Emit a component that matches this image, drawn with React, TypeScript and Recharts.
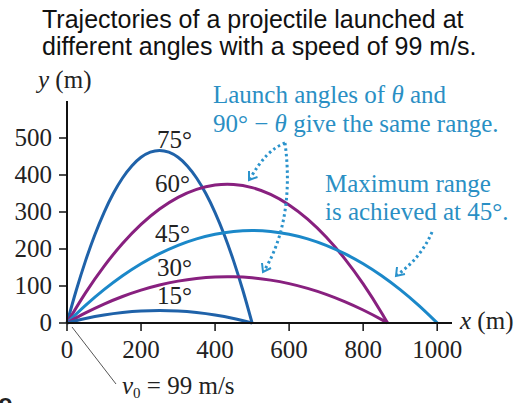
import { LineChart, Line, XAxis, YAxis } from "recharts";

const xTicks = [0, 200, 400, 600, 800, 1000];
const yTicks = [0, 100, 200, 300, 400, 500];

// horizontal distance (m) and height (m) along each trajectory
const x15 = [0, 50, 100, 150, 200, 250, 300, 350, 400, 450, 500];
const y15 = [0, 12, 21.4, 28.1, 32.2, 33.5, 32.2, 28.1, 21.4, 12, 0];

const x30 = [0, 50, 100, 150, 200, 250, 300, 350, 400, 433, 450, 500, 550, 600, 650, 700, 750, 800, 850, 866];
const y30 = [0, 27.2, 51.1, 71.6, 88.8, 102.7, 113.2, 120.4, 124.3, 125, 124.8, 122, 115.9, 106.4, 93.6, 77.5, 58, 35.2, 9.1, 0];

const x45 = [0, 50, 100, 150, 200, 250, 300, 350, 400, 450, 500, 550, 600, 650, 700, 750, 800, 850, 900, 950, 1000];
const y45 = [0, 47.5, 90, 127.5, 160, 187.5, 210, 227.5, 240, 247.5, 250, 247.5, 240, 227.5, 210, 187.5, 160, 127.5, 90, 47.5, 0];

const x60 = [0, 50, 100, 150, 200, 250, 300, 350, 400, 433, 450, 500, 550, 600, 650, 700, 750, 800, 850, 866];
const y60 = [0, 81.6, 153.2, 214.8, 266.4, 308, 339.6, 361.2, 372.8, 375, 374.4, 366, 347.6, 319.2, 280.8, 232.4, 174, 105.6, 27.2, 0];

const x75 = [0, 25, 50, 75, 100, 125, 150, 175, 200, 225, 250, 275, 300, 325, 350, 375, 400, 425, 450, 475, 500];
const y75 = [0, 88.6, 167.9, 237.9, 298.6, 349.9, 391.9, 424.5, 447.8, 461.8, 466.5, 461.8, 447.8, 424.5, 391.9, 349.9, 298.6, 237.9, 167.9, 88.6, 0];

const zip = (xs: number[], ys: number[]) => xs.map((x, i) => ({ x, y: ys[i] }));

const series = [
  { name: "75°", color: "#1f62a9", data: zip(x75, y75) },
  { name: "60°", color: "#88207f", data: zip(x60, y60) },
  { name: "45°", color: "#1b88c9", data: zip(x45, y45) },
  { name: "30°", color: "#88207f", data: zip(x30, y30) },
  { name: "15°", color: "#1f62a9", data: zip(x15, y15) },
];

const SERIF = "'Liberation Serif', 'Times New Roman', serif";
const SANS = "'Liberation Sans', Arial, sans-serif";
const NOTE = "#2a8fc4";

// serif tick labels, below the x axis and left of the y axis
const renderXTick = (p: any) => (
  <text
    key={`xt-${p.payload.value}`}
    x={p.x}
    y={p.y}
    dy={17}
    textAnchor="middle"
    fill="#222"
    style={{ fontFamily: SERIF, fontSize: 25 }}
  >
    {p.payload.value}
  </text>
);

const renderYTick = (p: any) => (
  <text
    key={`yt-${p.payload.value}`}
    x={p.x}
    y={p.y}
    dy={8}
    textAnchor="end"
    fill="#222"
    style={{ fontFamily: SERIF, fontSize: 25 }}
  >
    {p.payload.value}
  </text>
);

export default function App() {
  return (
    <div style={{ position: "absolute", left: 0, top: 0, width: 516, height: 403, background: "#fff" }}>
      <LineChart
        width={516}
        height={403}
        margin={{ top: 101, right: 64, left: 0, bottom: 0 }}
        style={{ fontFamily: SERIF }}
      >
        <XAxis
          type="number"
          dataKey="x"
          domain={[0, 1040]}
          ticks={xTicks}
          interval={0}
          height={80}
          tick={renderXTick}
          tickSize={8}
          tickMargin={10}
          axisLine={{ stroke: "#111", strokeWidth: 2 }}
          tickLine={{ stroke: "#111", strokeWidth: 1.5 }}
        />
        <YAxis
          type="number"
          dataKey="y"
          domain={[0, 600]}
          ticks={yTicks}
          interval={0}
          width={67}
          tick={renderYTick}
          tickSize={8}
          tickMargin={7}
          axisLine={{ stroke: "#111", strokeWidth: 2 }}
          tickLine={{ stroke: "#111", strokeWidth: 1.5 }}
        />
        {series.map((s) => (
          <Line
            key={s.name}
            data={s.data}
            dataKey="y"
            name={s.name}
            type="monotone"
            stroke={s.color}
            strokeWidth={3}
            dot={false}
            isAnimationActive={false}
          />
        ))}
      </LineChart>

      {/* title, axis names and notes */}
      <svg
        width={516}
        height={403}
        style={{ position: "absolute", left: 0, top: 0, pointerEvents: "none" }}
      >
        <g fontFamily={SANS} fontSize={25} fill="#111">
          <text x={42} y={28}>Trajectories of a projectile launched at</text>
          <text x={42} y={55}>different angles with a speed of 99 m/s.</text>
        </g>
        <text x={-2} y={412} fontFamily={SANS} fontSize={26} fontWeight="bold" fill="#222">e</text>

        <g fontFamily={SERIF} fontSize={25} fill="#222">
          <text x={38} y={88}>
            <tspan fontStyle="italic">y</tspan> (m)
          </text>
          <text x={460} y={329}>
            <tspan fontStyle="italic">x</tspan> (m)
          </text>
          <text x={157} y={148}>75°</text>
          <text x={155} y={192}>60°</text>
          <text x={155} y={242}>45°</text>
          <text x={157} y={276}>30°</text>
          <text x={157} y={304}>15°</text>
          <text x={122} y={394}>
            <tspan fontStyle="italic">v</tspan>
            <tspan fontSize={15} dy={4}>0</tspan>
            <tspan dy={-4}> = 99 m/s</tspan>
          </text>
        </g>
        <line x1={72} y1={327} x2={116} y2={384} stroke="#555" strokeWidth={1} />

        <g fontFamily={SERIF} fontSize={25} fill={NOTE}>
          <text x={213} y={103}>
            Launch angles of <tspan fontStyle="italic">θ</tspan> and
          </text>
          <text x={213} y={132}>
            90° − <tspan fontStyle="italic">θ</tspan> give the same range.
          </text>
          <text x={325} y={192}>Maximum range</text>
          <text x={325} y={220}>is achieved at 45°.</text>
        </g>

        <g fill="none" stroke="#2b93cc" strokeWidth={3} strokeDasharray="2.5 3">
          <path d="M285,143 Q266,150 250,179" />
          <path d="M257.5,177 L249,180 L249,171" strokeDasharray="none" strokeWidth={2} />
          <path d="M285,143 C290,180 289,230 264,271" />
          <path d="M271,268 L263,272 L262,263" strokeDasharray="none" strokeWidth={2} />
          <path d="M432,232 Q421,258 397,275" />
          <path d="M405,274 L396,276 L397,267" strokeDasharray="none" strokeWidth={2} />
        </g>
      </svg>
    </div>
  );
}
